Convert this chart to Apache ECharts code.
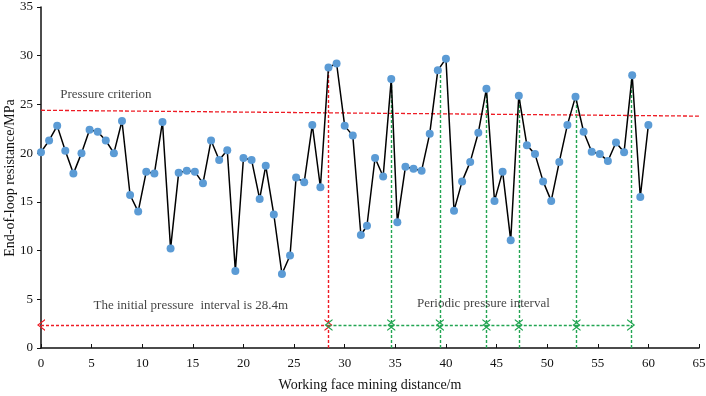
<!DOCTYPE html>
<html>
<head>
<meta charset="utf-8">
<script src="https://cdn.jsdelivr.net/npm/echarts@6/dist/echarts.min.js"></script>
<style>
html,body{margin:0;padding:0;background:#fff;}
#main{width:706px;height:396px;}
</style>
</head>
<body>
<div id="main"></div>
<script>
// measured points (m, MPa)
var distance = [0, 0.8, 1.6, 2.4, 3.2, 4.0, 4.8, 5.6, 6.4, 7.2, 8.0, 8.8, 9.6, 10.4, 11.2, 12.0, 12.8, 13.6, 14.4, 15.2,
  16.0, 16.8, 17.6, 18.4, 19.2, 20.0, 20.8, 21.6, 22.2, 23.0, 23.8, 24.6, 25.2, 26.0, 26.8, 27.6, 28.4, 29.2, 30.0, 30.8,
  31.6, 32.2, 33.0, 33.8, 34.6, 35.2, 36.0, 36.8, 37.6, 38.4, 39.2, 40.0, 40.8, 41.6, 42.4, 43.2, 44.0, 44.8, 45.6, 46.4,
  47.2, 48.0, 48.8, 49.6, 50.4, 51.2, 52.0, 52.8, 53.6, 54.4, 55.2, 56.0, 56.8, 57.6, 58.4, 59.2, 60.0];
var resistance = [20.1, 21.3, 22.8, 20.25, 17.9, 20.0, 22.4, 22.2, 21.3, 20.0, 23.3, 15.7, 14.0, 18.1, 17.9, 23.2, 10.2, 18.0, 18.2, 18.1,
  16.9, 21.3, 19.3, 20.3, 7.9, 19.5, 19.3, 15.3, 18.7, 13.7, 7.6, 9.5, 17.5, 17.0, 22.9, 16.5, 28.8, 29.2, 22.8, 21.8,
  11.6, 12.55, 19.5, 17.6, 27.6, 12.9, 18.6, 18.4, 18.2, 22.0, 28.5, 29.7, 14.1, 17.1, 19.1, 22.1, 26.6, 15.1, 18.1, 11.05,
  25.9, 20.8, 19.9, 17.1, 15.1, 19.1, 22.9, 25.8, 22.2, 20.15, 19.9, 19.2, 21.1, 20.1, 28.0, 15.5, 22.9];

// pressure criterion (slightly sloping dashed line)
var criterionX = [0, 65];
var criterionY = [24.4, 23.8];

// first weighting / periodic weighting positions and their peaks
var initialBreak = 28.4;
var initialPeak = 28.8;
var periodicBreaks = [34.6, 39.4, 44.0, 47.2, 52.9, 58.3];
var periodicPeaks = [27.6, 28.5, 26.6, 25.9, 25.8, 28.0];
var arrowLevel = 2.36;

var xTicks = {min: 0, max: 65, interval: 5};
var yTicks = {min: 0, max: 35, interval: 5};

var FONT = 'Liberation Serif';
var INK = '#111';
var RED = '#ee1c25';
var GREEN = '#22a552';
var chevron = 'path://M0,10 L5,0 L10,10 L8.8,10 L5,2.4 L1.2,10 Z';

var myChart = echarts.init(document.getElementById('main'));

// vertical dashed lines + interval arrows
var marks = [];
marks.push([{coord: [initialBreak, 0], lineStyle: {color: RED}}, {coord: [initialBreak, initialPeak]}]);
for (var i = 0; i < periodicBreaks.length; i++) {
  marks.push([{coord: [periodicBreaks[i], 0], lineStyle: {color: GREEN}}, {coord: [periodicBreaks[i], periodicPeaks[i]]}]);
}
marks.push([{coord: [0, arrowLevel], symbol: chevron, lineStyle: {color: RED}}, {coord: [initialBreak, arrowLevel], symbol: chevron}]);
var prev = initialBreak;
for (var j = 0; j < periodicBreaks.length; j++) {
  marks.push([{coord: [prev, arrowLevel], symbol: chevron, lineStyle: {color: GREEN}}, {coord: [periodicBreaks[j], arrowLevel], symbol: chevron}]);
  prev = periodicBreaks[j];
}

var points = distance.map(function (d, k) { return [d, resistance[k]]; });
var criterion = criterionX.map(function (d, k) { return [d, criterionY[k]]; });

var option = {
  animation: false,
  grid: {left: 41, right: 7, top: 7, bottom: 48, containLabel: false, outerBoundsMode: 'none'},
  // y axis title drawn as plain text (axis name kept getting pushed off the edge)
  graphic: [{
    type: 'text', x: 10, y: 178, rotation: Math.PI / 2, silent: true,
    style: {text: 'End-of-loop resistance/MPa', font: '14px "Liberation Serif"', fill: INK, align: 'center', verticalAlign: 'middle'}
  }],
  xAxis: {
    type: 'value', min: xTicks.min, max: xTicks.max, interval: xTicks.interval,
    name: 'Working face mining distance/m', nameLocation: 'middle', nameGap: 30,
    nameTextStyle: {fontFamily: FONT, fontSize: 14, color: INK},
    axisLine: {lineStyle: {color: INK, width: 1.5}},
    axisTick: {inside: true, length: 4, lineStyle: {color: INK}},
    axisLabel: {fontFamily: FONT, fontSize: 13, color: INK, margin: 9},
    splitLine: {show: false}
  },
  yAxis: {
    type: 'value', min: yTicks.min, max: yTicks.max, interval: yTicks.interval,
    axisLine: {show: true, lineStyle: {color: INK, width: 1.5}},
    axisTick: {show: true, length: 4, lineStyle: {color: INK}},
    axisLabel: {fontFamily: FONT, fontSize: 13, color: INK, margin: 8},
    splitLine: {show: false}
  },
  series: [
    {
      name: 'criterion', type: 'line', data: criterion, symbol: 'none', silent: true,
      lineStyle: {color: RED, width: 1.3, type: [4, 2]}, z: 1
    },
    {
      name: 'marks', type: 'line', data: [], silent: true,
      markLine: {
        silent: true, symbol: ['none', 'none'], symbolSize: [12, 8], label: {show: false},
        lineStyle: {width: 1.4, type: [3, 2]},
        emphasis: {disabled: true},
        data: marks
      },
      z: 2
    },
    {
      name: 'resistance', type: 'line', data: points, symbol: 'circle', symbolSize: 8,
      lineStyle: {color: '#000', width: 1.5},
      itemStyle: {color: '#5b9bd5'}, z: 5
    },
    {
      name: 'text', type: 'scatter', symbolSize: 0, silent: true, z: 6,
      label: {show: true, fontFamily: FONT, fontSize: 13, color: INK, formatter: function (p) { return p.data.t; }},
      data: [
        {value: [1.9, 26.0], t: 'Pressure criterion', label: {position: 'right', offset: [-5, 0]}},
        {value: [14.8, 4.35], t: 'The initial pressure  interval is 28.4m', label: {position: 'inside'}},
        {value: [43.7, 4.6], t: 'Periodic pressure interval', label: {position: 'inside'}}
      ]
    }
  ]
};
myChart.setOption(option);
</script>
</body>
</html>
